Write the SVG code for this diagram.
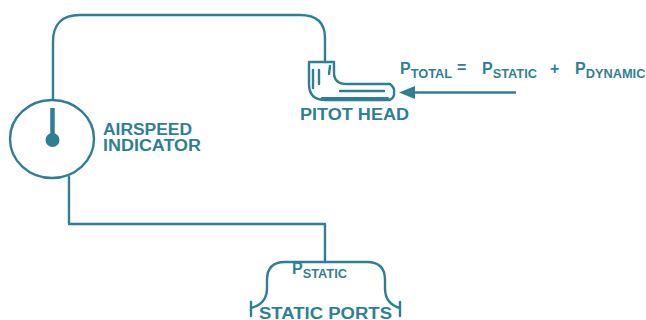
<svg xmlns="http://www.w3.org/2000/svg" width="646" height="320" viewBox="0 0 646 320">
<style>
.l{fill:none;stroke:#2f7f94;stroke-width:2.4;stroke-linecap:round;stroke-linejoin:round}
.t{fill:#2f7f94;stroke:none;font-family:"Liberation Sans",Arial,sans-serif;font-weight:bold;font-size:16px}
.p{font-size:16px}
.s{font-size:12.800px}
</style>
<rect width="646" height="320" fill="#ffffff"/>
<g id="connectors">
<path class="l" d="M53 100V42Q53 15 80 15H300Q325 15 325 38V62"/>
<path class="l" d="M69 177V224H325V262"/>
<path d="M415 92.500H516" fill="none" stroke="#2f7f94" stroke-width="2.400"/>
<path d="M399 92.500L415 86V99Z" fill="#2f7f94"/>
</g>
<g id="airspeed-indicator">
<ellipse class="l" cx="52" cy="139" rx="42" ry="39"/>
<path d="M52.500 108V135" fill="none" stroke="#2f7f94" stroke-width="4.500"/>
<circle cx="52.500" cy="140" r="7" fill="#2f7f94"/>
<text class="t" x="103" y="135" textLength="89" lengthAdjust="spacingAndGlyphs">AIRSPEED</text>
<text class="t" x="103" y="151" textLength="98" lengthAdjust="spacingAndGlyphs">INDICATOR</text>
</g>
<g id="pitot-head">
<path class="l" d="M309 62H334V73Q334 84 347 84H390Q395 88 394 92Q395 97 390 100H325Q309 100 309 84Z"/>
<path class="l" stroke-width="1.500" d="M313 70V88M319 70V84M330 66L329 74"/>
<path class="l" d="M340 91H384"/>
<path class="l" style="stroke-width:3" d="M322 98.500H388"/>
<text class="t" x="300" y="119.500" textLength="109" lengthAdjust="spacingAndGlyphs">PITOT HEAD</text>
</g>
<g id="static-ports">
<path class="l" d="M251 308Q267 304 267 288V280Q267 262 285 262H367Q385 262 385 280V288Q385 304 400 308M251 302V316M400 302V316"/>
<text class="t" x="292" y="274"><tspan class="p">P</tspan><tspan class="s" dy="4">STATIC</tspan></text>
<text class="t" x="259" y="318.500" textLength="133" lengthAdjust="spacingAndGlyphs">STATIC PORTS</text>
</g>
<g id="equation">
<text class="t" x="400" y="74"><tspan class="p">P</tspan><tspan class="s" dy="4">TOTAL</tspan></text>
<text class="t" x="457" y="73">=</text>
<text class="t" x="482" y="74"><tspan class="p">P</tspan><tspan class="s" dy="4">STATIC</tspan></text>
<text class="t" x="550" y="74">+</text>
<text class="t" x="575" y="74"><tspan class="p">P</tspan><tspan class="s" dy="4">DYNAMIC</tspan></text>
</g>
</svg>
